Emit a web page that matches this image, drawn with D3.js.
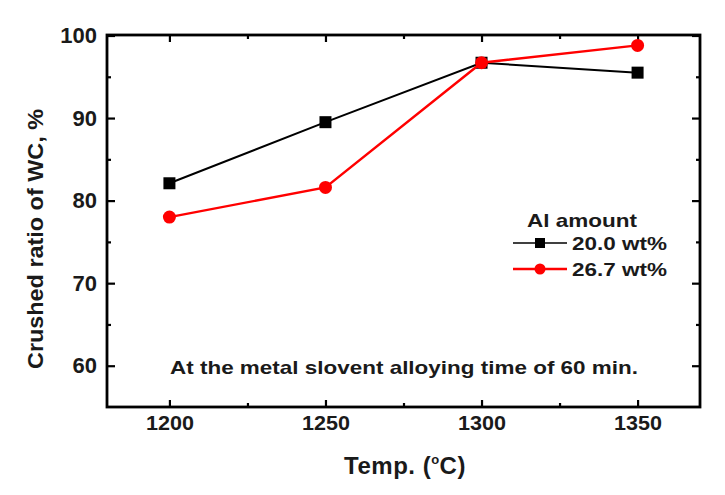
<!DOCTYPE html>
<html><head><meta charset="utf-8">
<script src="https://cdn.jsdelivr.net/npm/d3@7"></script>
<style>body{margin:0;background:#fff}svg{display:block}text{font-family:"Liberation Sans",Arial,sans-serif;font-weight:bold;fill:#1a1a1a}</style>
</head><body>
<script>
const temps = [1200, 1250, 1300, 1350];
const al200 = [82.1, 89.5, 96.7, 95.5];
const al267 = [78.0, 81.6, 96.7, 98.8];
const xTicks = [1200, 1250, 1300, 1350];
const xMinor = [1225, 1275, 1325];
const yTicks = [60, 70, 80, 90, 100];
const yMinor = [65, 75, 85, 95];
const seriesNames = ["20.0 wt%", "26.7 wt%"];

const W = 725, H = 495;
const L = 107, R = 700, T = 35, B = 407;
const svg = d3.select("body").append("svg").attr("width", W).attr("height", H);
const x = d3.scaleLinear().domain([1180, 1370]).range([L, R]);
const y = d3.scaleLinear().domain([55, 100]).range([B, T + 0.5]);

function styleAxis(g){ g.select(".domain").remove(); g.selectAll("line").attr("stroke","#000").attr("stroke-width",2.2); }

// bottom major
svg.append("g").attr("transform",`translate(0,${B})`)
  .call(d3.axisBottom(x).tickValues(xTicks).tickFormat(d3.format("d")).tickSizeInner(-7).tickSizeOuter(0).tickPadding(8))
  .call(styleAxis)
  .call(g=>g.selectAll("text").attr("font-size",21).attr("textLength",48).attr("lengthAdjust","spacingAndGlyphs").attr("fill","#1a1a1a"));
svg.append("g").attr("transform",`translate(0,${B})`)
  .call(d3.axisBottom(x).tickValues(xMinor).tickFormat("").tickSizeInner(-4).tickSizeOuter(0)).call(styleAxis);
// top
svg.append("g").attr("transform",`translate(0,${T})`)
  .call(d3.axisTop(x).tickValues(xTicks).tickFormat("").tickSizeInner(-7).tickSizeOuter(0)).call(styleAxis);
svg.append("g").attr("transform",`translate(0,${T})`)
  .call(d3.axisTop(x).tickValues(xMinor).tickFormat("").tickSizeInner(-4).tickSizeOuter(0)).call(styleAxis);
// left
svg.append("g").attr("transform",`translate(${L},0)`)
  .call(d3.axisLeft(y).tickValues(yTicks).tickSizeInner(-8).tickSizeOuter(0).tickPadding(10))
  .call(styleAxis)
  .call(g=>g.selectAll("text").attr("font-size",22).attr("fill","#1a1a1a"));
svg.append("g").attr("transform",`translate(${L},0)`)
  .call(d3.axisLeft(y).tickValues(yMinor).tickFormat("").tickSizeInner(-4).tickSizeOuter(0)).call(styleAxis);
// right
svg.append("g").attr("transform",`translate(${R},0)`)
  .call(d3.axisRight(y).tickValues(yTicks).tickFormat("").tickSizeInner(-8).tickSizeOuter(0)).call(styleAxis);
svg.append("g").attr("transform",`translate(${R},0)`)
  .call(d3.axisRight(y).tickValues(yMinor).tickFormat("").tickSizeInner(-4).tickSizeOuter(0)).call(styleAxis);

// frame
svg.append("rect").attr("x",L).attr("y",T).attr("width",R-L).attr("height",B-T)
  .attr("fill","none").attr("stroke","#000").attr("stroke-width",2.8);

const line = d3.line().x((d,i)=>x(temps[i])).y(d=>y(d));
// black series
svg.append("path").datum(al200).attr("d",line).attr("fill","none").attr("stroke","#000").attr("stroke-width",2);
svg.selectAll(".sq").data(al200).enter().append("rect")
  .attr("x",(d,i)=>x(temps[i])-6).attr("y",d=>y(d)-6).attr("width",12).attr("height",12).attr("fill","#000");
// red series
svg.append("path").datum(al267).attr("d",line).attr("fill","none").attr("stroke","#ff0000").attr("stroke-width",2.4);
svg.selectAll(".ci").data(al267).enter().append("circle")
  .attr("cx",(d,i)=>x(temps[i])).attr("cy",d=>y(d)).attr("r",6.5).attr("fill","#ff0000");

// legend
svg.append("text").attr("x",527).attr("y",227).attr("font-size",19).attr("textLength",110).attr("lengthAdjust","spacingAndGlyphs").text("Al amount");
const lg = [{c:"#000",yy:243,s:"sq",n:seriesNames[0]},{c:"#ff0000",yy:269,s:"ci",n:seriesNames[1]}];
lg.forEach(o=>{
  svg.append("line").attr("x1",513).attr("x2",567).attr("y1",o.yy).attr("y2",o.yy).attr("stroke",o.c).attr("stroke-width",o.s==="sq"?1.5:2.4);
  if(o.s==="sq") svg.append("rect").attr("x",540-5).attr("y",o.yy-5).attr("width",10).attr("height",10).attr("fill",o.c);
  else svg.append("circle").attr("cx",540).attr("cy",o.yy).attr("r",5.5).attr("fill",o.c);
  svg.append("text").attr("x",572).attr("y",o.yy+7).attr("font-size",19).attr("textLength",95).attr("lengthAdjust","spacingAndGlyphs").text(o.n);
});

// annotation
svg.append("text").attr("x",404).attr("y",374).attr("text-anchor","middle").attr("font-size",19)
  .attr("textLength",468).attr("lengthAdjust","spacingAndGlyphs").text("At the metal slovent alloying time of 60 min.");

// x title
const xt = svg.append("text").attr("x",405).attr("y",474).attr("text-anchor","middle").attr("font-size",24).attr("letter-spacing",0.5);
xt.append("tspan").text("Temp. (");
xt.append("tspan").attr("font-size",13).attr("dy",-10).text("o");
xt.append("tspan").attr("dy",10).text("C)");

// y title
svg.append("text").attr("transform","translate(43,239) rotate(-90)").attr("text-anchor","middle").attr("font-size",22)
  .attr("textLength",260).attr("lengthAdjust","spacingAndGlyphs").text("Crushed ratio of WC, %");
</script>
</body></html>
